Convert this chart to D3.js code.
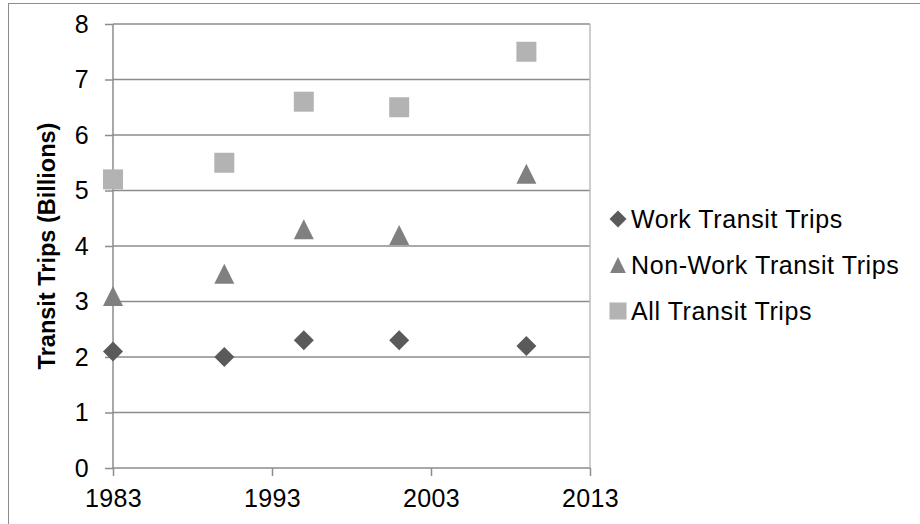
<!DOCTYPE html>
<html lang="en">
<head>
  <meta charset="UTF-8">
  <title>Transit Trips</title>
  <style>
    body { margin: 0; background: #fff; font-family: "Liberation Sans", Arial, sans-serif; }
    .grid line { stroke: #8c8c8c; stroke-width: 1.5px; }
    .axis text { font: 25px "Liberation Sans", Arial, sans-serif; fill: #000; letter-spacing: 0.3px; }
    .axis path, .axis line { stroke: #8c8c8c; stroke-width: 1.5px; }
    .legend text { font: 25px "Liberation Sans", Arial, sans-serif; fill: #000; letter-spacing: 0.6px; }
  </style>
</head>
<body>
  <svg width="920" height="524"></svg>

  <script src="https://d3js.org/d3.v7.min.js"></script>
  <script>
    const years = [1983, 1990, 1995, 2001, 2009];
    const workTrips = [2.1, 2.0, 2.3, 2.3, 2.2];
    const nonWorkTrips = [3.1, 3.5, 4.3, 4.2, 5.3];
    const allTrips = [5.2, 5.5, 6.6, 6.5, 7.5];
    const xTicks = [1983, 1993, 2003, 2013];
    const yTicks = [0, 1, 2, 3, 4, 5, 6, 7, 8];

    // excel-style markers, size = side length squared
    const diamond = { draw(ctx, size) { const h = Math.sqrt(size) / 2; ctx.moveTo(0, -h); ctx.lineTo(h, 0); ctx.lineTo(0, h); ctx.lineTo(-h, 0); ctx.closePath(); } };
    const triangle = { draw(ctx, size) { const h = Math.sqrt(size) / 2; ctx.moveTo(0, -h); ctx.lineTo(h, h); ctx.lineTo(-h, h); ctx.closePath(); } };
    const square = { draw(ctx, size) { const h = Math.sqrt(size) / 2; ctx.rect(-h, -h, 2 * h, 2 * h); } };

    const series = [
      { name: "Work Transit Trips", values: workTrips, symbol: diamond, color: "#5a5a5a" },
      { name: "Non-Work Transit Trips", values: nonWorkTrips, symbol: triangle, color: "#808080" },
      { name: "All Transit Trips", values: allTrips, symbol: square, color: "#b3b3b3" }
    ];

    const svg = d3.select("svg");

    // chart border
    svg.append("rect")
      .attr("x", 8.5).attr("y", 3.5)
      .attr("width", 930).attr("height", 540)
      .attr("fill", "none").attr("stroke", "#8c8c8c").attr("stroke-width", 1);

    const x = d3.scaleLinear().domain([1983, 2013]).range([113, 590]);
    const y = d3.scaleLinear().domain([0, 8]).range([468, 24]);

    // horizontal gridlines
    svg.append("g").attr("class", "grid")
      .selectAll("line")
      .data(yTicks.filter(d => d > 0))
      .join("line")
      .attr("x1", x(1983)).attr("x2", x(2013))
      .attr("y1", d => y(d)).attr("y2", d => y(d));

    // right plot edge
    svg.append("line")
      .attr("x1", x(2013)).attr("x2", x(2013))
      .attr("y1", y(8)).attr("y2", y(0))
      .attr("stroke", "#bdbdbd").attr("stroke-width", 1.5);

    const yAxis = svg.append("g").attr("class", "axis")
      .attr("transform", `translate(${x(1983)},0)`)
      .call(d3.axisLeft(y).tickValues(yTicks).tickSize(8).tickPadding(16));
    yAxis.select(".domain").attr("d", `M0,${y(8)}V${y(0)}`);

    const xAxis = svg.append("g").attr("class", "axis")
      .attr("transform", `translate(0,${y(0)})`)
      .call(d3.axisBottom(x).tickValues(xTicks).tickFormat(d3.format("d")).tickSize(8).tickPadding(13));
    xAxis.select(".domain").attr("d", `M${x(1983)},0H${x(2013)}`);

    svg.append("text")
      .attr("transform", `translate(55,${(y(0) + y(8)) / 2}) rotate(-90)`)
      .attr("text-anchor", "middle")
      .style("font", "bold 23.5px 'Liberation Sans', Arial, sans-serif")
      .text("Transit Trips (Billions)");

    // markers
    series.forEach(s => {
      svg.append("g")
        .selectAll("path")
        .data(s.values.map((v, i) => ({ year: years[i], value: v })))
        .join("path")
        .attr("transform", d => `translate(${x(d.year)},${y(d.value)})`)
        .attr("d", d3.symbol().type(s.symbol).size(400))
        .attr("fill", s.color);
    });

    // legend
    const legend = svg.append("g").attr("class", "legend")
      .selectAll("g")
      .data(series)
      .join("g")
      .attr("transform", (d, i) => `translate(618,${219 + i * 46})`);

    legend.append("path")
      .attr("d", d => d3.symbol().type(d.symbol).size(d.symbol === triangle ? 250 : 290)())
      .attr("fill", d => d.color);

    legend.append("text")
      .attr("x", 13)
      .attr("dy", "0.35em")
      .text(d => d.name);
  </script>
</body>
</html>
